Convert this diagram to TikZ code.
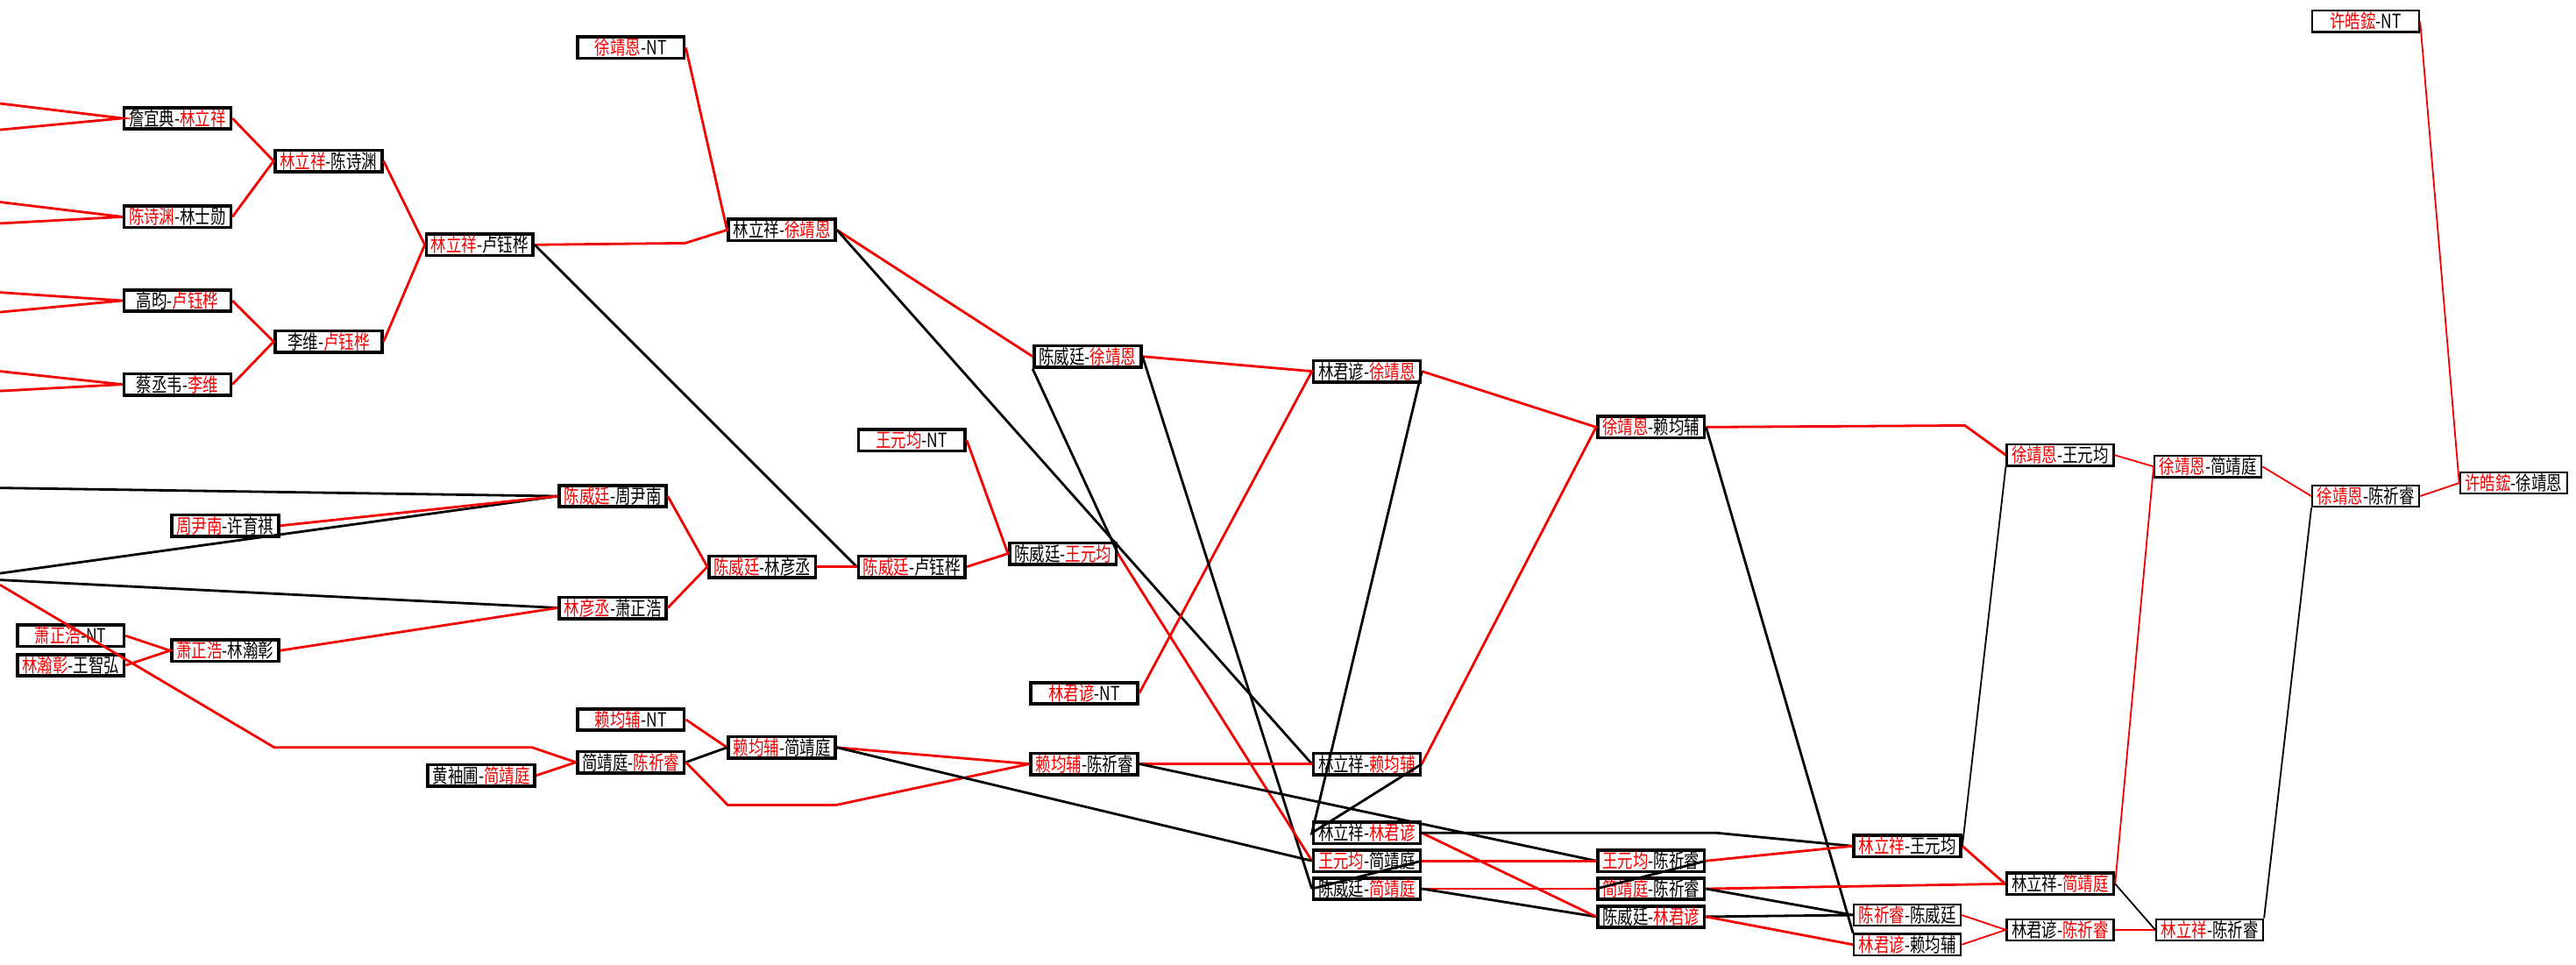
\documentclass[tikz,border=0pt]{standalone}
\usepackage{fontspec}
\usepackage{xcolor}
\usepackage{tikz}
\usetikzlibrary{positioning,calc}

\newfontfamily\cjk[FakeStretch=0.78]{Noto Sans CJK SC}
\definecolor{wred}{HTML}{F40000}
\newcommand{\wn}[1]{\textcolor{wred}{#1}}

\begin{document}
\begin{tikzpicture}[
  x=0.02cm, y=-0.02cm,
  mbox/.style={draw, line width=1.1pt, rectangle,
               minimum width=1.3cm, minimum height=0.26cm,
               inner sep=0.2pt, font=\cjk\fontsize{6.8}{6.8}\selectfont},
  tbox/.style={mbox, line width=0.7pt},
  rl/.style={wred, line width=0.85pt},
  bl/.style={black, line width=0.85pt},
  trl/.style={wred, line width=0.55pt},
  tbl/.style={black, line width=0.55pt},
]
\useasboundingbox[fill=white] (0,0) rectangle (1568,587);

%%---- Upper bracket, left side --------------------------------------
\node[mbox] (zyd)  at (108,72)  {詹宜典-\wn{林立祥}};
\node[mbox] (csy)  at (108,132) {\wn{陈诗渊}-林士勋};
\node[mbox] (gy)   at (108,183) {高昀-\wn{卢钰桦}};
\node[mbox] (cch)  at (108,234) {蔡丞韦-\wn{李维}};
\node[mbox] (lcsy) at (200,98)  {\wn{林立祥}-陈诗渊};
\node[mbox] (lwl)  at (200,208) {李维-\wn{卢钰桦}};
\node[mbox] (llyh) at (292,149) {\wn{林立祥}-卢钰桦};
\node[mbox] (xjnt) at (384,29)  {\wn{徐靖恩}-NT};
\node[mbox] (lxj)  at (476,140) {林立祥-\wn{徐靖恩}};
\node[mbox] (cxj)  at (662,217) {陈威廷-\wn{徐靖恩}};
\node[mbox] (ljxj) at (832,226) {林君谚-\wn{徐靖恩}};
\node[mbox] (xlj)  at (1005,260) {\wn{徐靖恩}-赖均辅};

%%---- Middle block ---------------------------------------------------
\node[mbox] (zyn)  at (137,320) {\wn{周尹南}-许育祺};
\node[mbox] (czn)  at (373,302) {\wn{陈威廷}-周尹南};
\node[mbox] (xznt) at (43,387)  {\wn{萧正浩}-NT};
\node[mbox] (lhw)  at (43,405)  {\wn{林瀚彰}-王智弘};
\node[mbox] (xlh)  at (137,396) {\wn{萧正浩}-林瀚彰};
\node[mbox] (lyx)  at (373,370) {\wn{林彦丞}-萧正浩};
\node[mbox] (cly)  at (464,345) {\wn{陈威廷}-林彦丞};
\node[mbox] (clyh) at (555,345) {\wn{陈威廷}-卢钰桦};
\node[mbox] (wnt)  at (555,268) {\wn{王元均}-NT};
\node[mbox] (cwy)  at (647,337) {陈威廷-\wn{王元均}};
\node[mbox] (ljnt) at (660,422) {\wn{林君谚}-NT};

%%---- Lower block ----------------------------------------------------
\node[mbox] (lnt)  at (384,438) {\wn{赖均辅}-NT};
\node[mbox] (jcq)  at (384,464) {简靖庭-\wn{陈祈睿}};
\node[mbox] (hjt)  at (293,472) {黄袖圃-\wn{简靖庭}};
\node[mbox] (ljt)  at (476,455) {\wn{赖均辅}-简靖庭};
\node[mbox] (lcq)  at (660,465) {\wn{赖均辅}-陈祈睿};
\node[mbox] (llj)  at (832,465) {林立祥-\wn{赖均辅}};
\node[mbox] (llJ)  at (832,507) {林立祥-\wn{林君谚}};
\node[mbox] (wjt)  at (832,524) {\wn{王元均}-简靖庭};
\node[mbox] (cjt)  at (832,541) {陈威廷-\wn{简靖庭}};
\node[mbox] (wcq)  at (1005,524) {\wn{王元均}-陈祈睿};
\node[mbox] (jcqb) at (1005,541) {\wn{简靖庭}-陈祈睿};
\node[mbox] (clj)  at (1005,558) {陈威廷-\wn{林君谚}};
\node[mbox] (lwy)  at (1161,515) {\wn{林立祥}-王元均};
\node[tbox] (ccw)  at (1161,557) {\wn{陈祈睿}-陈威廷};
\node[tbox] (ljl)  at (1161,575) {\wn{林君谚}-赖均辅};
\node[mbox] (ljtb) at (1254,538) {林立祥-\wn{简靖庭}};
\node[tbox] (ljc)  at (1254,566) {林君谚-\wn{陈祈睿}};
\node[tbox] (llc)  at (1345,566) {\wn{林立祥}-陈祈睿};

%%---- Right side -----------------------------------------------------
\node[tbox] (xwy)  at (1254,277) {\wn{徐靖恩}-王元均};
\node[tbox] (xjt)  at (1344,284) {\wn{徐靖恩}-简靖庭};
\node[tbox] (xcq)  at (1440,302) {\wn{徐靖恩}-陈祈睿};
\node[tbox] (xhnt) at (1440,13)  {\wn{许皓鋐}-NT};
\node[tbox] (xhx)  at (1530,294) {\wn{许皓鋐}-徐靖恩};

%%---- Loose ends at the left border ----------------------------------
\coordinate (s1a) at (0,63);  \coordinate (s1b) at (0,79);
\coordinate (s2a) at (0,123); \coordinate (s2b) at (0,136);
\coordinate (s3a) at (0,178); \coordinate (s3b) at (0,190);
\coordinate (s4a) at (0,226); \coordinate (s4b) at (0,238);
\coordinate (s5) at (0,297);  \coordinate (s6) at (0,349);
\coordinate (s7) at (0,353);  \coordinate (s8) at (0,356);

\draw[rl] (s1a) -- (zyd.west) -- (s1b);
\draw[rl] (s2a) -- (csy.west) -- (s2b);
\draw[rl] (s3a) -- (gy.west) -- (s3b);
\draw[rl] (s4a) -- (cch.west) -- (s4b);
\draw[bl] (s5) -- (czn.west) -- (s6);
\draw[bl] (s7) -- (lyx.west);
\draw[rl] (s8) -- (167,455) -- (324,455) -- (jcq.west);

%%---- Connectors: upper bracket --------------------------------------
\draw[rl] (zyd.east) -- (lcsy.west) -- (csy.east);
\draw[rl] (gy.east) -- (lwl.west) -- (cch.east);
\draw[rl] (lcsy.east) -- (llyh.west) -- (lwl.east);
\draw[rl] (llyh.east) -- (417,148) -- (lxj.west) -- (xjnt.east);
\draw[bl] (llyh.east) -- (clyh.west);
\draw[rl] (lxj.east) -- (cxj.west);
\draw[bl] (lxj.east) -- (llj.west);
\draw[rl] (cxj.east) -- (ljxj.west) -- (ljnt.east);
\draw[bl] (cxj.east) -- (cjt.west);
\draw[bl] (cxj.south west) -- (cwy.east);
\draw[rl] (ljxj.east) -- (xlj.west) -- (llj.east);
\draw[bl] (ljxj.east) -- (llJ.west) -- (llj.east);
\draw[rl] (xlj.east) -- (1196,259) -- (xwy.west);
\draw[bl] (xlj.east) -- (ljl.north west);

%%---- Connectors: middle block ---------------------------------------
\draw[rl] (zyn.east) -- (czn.west);
\draw[rl] (xznt.east) -- (xlh.west) -- (lhw.east);
\draw[rl] (xlh.east) -- (lyx.west);
\draw[rl] (czn.east) -- (cly.west) -- (lyx.east);
\draw[rl] (cly.east) -- (clyh.west);
\draw[rl] (clyh.east) -- (cwy.west) -- (wnt.east);
\draw[rl] (cwy.east) -- (wjt.west);

%%---- Connectors: lower block ----------------------------------------
\draw[rl] (hjt.east) -- (jcq.west);
\draw[rl] (lnt.east) -- (ljt.west);
\draw[bl] (jcq.east) -- (ljt.west);
\draw[rl] (jcq.east) -- (443,490) -- (509,490) -- (lcq.west);
\draw[rl] (ljt.east) -- (lcq.west);
\draw[bl] (ljt.east) -- (wjt.west);
\draw[rl] (lcq.east) -- (llj.west);
\draw[bl] (lcq.east) -- (wcq.west);
\draw[bl] (cjt.west) -- (wjt.east);
\draw[rl] (wjt.east) -- (wcq.west);
\draw[rl] (cjt.east) -- (jcqb.west);
\draw[bl] (cjt.east) -- (clj.west);
\draw[rl] (llJ.east) -- (clj.west);
\draw[bl] (llJ.east) -- (1045,507) -- (lwy.west);
\draw[bl] (jcqb.west) -- (wcq.east);
\draw[rl] (wcq.east) -- (lwy.west);
\draw[rl] (jcqb.east) -- (ljtb.west);
\draw[bl] (jcqb.east) -- (ccw.west) -- (clj.east);
\draw[rl] (clj.east) -- (ljl.west);
\draw[rl] (lwy.east) -- (ljtb.west);
\draw[trl] (ccw.east) -- (ljc.west) -- (ljl.east);
\draw[trl] (ljc.east) -- (llc.west);
\draw[tbl] (ljtb.east) -- (llc.west);

%%---- Connectors: right side -----------------------------------------
\draw[tbl] (xwy.south west) -- (lwy.east);
\draw[trl] (xwy.east) -- (xjt.west) -- (ljtb.east);
\draw[trl] (xjt.east) -- (xcq.west);
\draw[tbl] (llc.north east) -- (xcq.south west);
\draw[trl] (xcq.east) -- (xhx.west) -- (xhnt.east);

\end{tikzpicture}
\end{document}
